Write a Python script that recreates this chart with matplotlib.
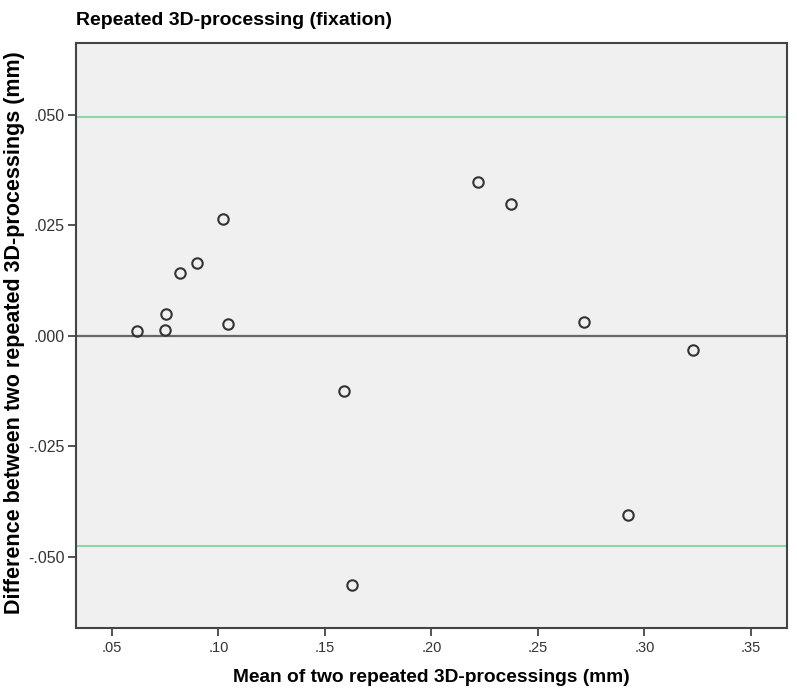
import matplotlib
matplotlib.use("Agg")
import matplotlib.pyplot as plt
from matplotlib.ticker import FuncFormatter

plt.rcParams['font.family'] = ['Liberation Sans', 'DejaVu Sans']

# Bland-Altman data
mean_mm = [0.0619, 0.0750, 0.0755, 0.0819, 0.0899, 0.1024, 0.1045,
           0.1589, 0.1628, 0.2218, 0.2373, 0.2719, 0.2921, 0.3229]
diff_mm = [0.0010, 0.0013, 0.0050, 0.0142, 0.0164, 0.0264, 0.0026,
           -0.0124, -0.0564, 0.0349, 0.0299, 0.0032, -0.0406, -0.0032]
upper_loa = 0.0495
lower_loa = -0.0477
x_ticks = [0.05, 0.10, 0.15, 0.20, 0.25, 0.30, 0.35]
y_ticks = [-0.050, -0.025, 0.0, 0.025, 0.050]


def spss_fmt(ndec):
    def f(v, pos):
        s = f"{v:.{ndec}f}"
        if s.startswith("-0"):
            s = "-" + s[2:]
        elif s.startswith("0"):
            s = s[1:]
        return s
    return FuncFormatter(f)


fig = plt.figure(figsize=(7.97, 6.93), dpi=100)
ax = fig.add_axes([0.0954, 0.0942, 0.8916, 0.8438])
ax.set_facecolor('#f0f0f0')

ax.axhline(upper_loa, color='#8fd6a0', lw=1.5, zorder=1)
ax.axhline(lower_loa, color='#8fd6a0', lw=1.5, zorder=1)
ax.axhline(0, color='#666666', lw=1.6, zorder=1)

ax.plot(mean_mm, diff_mm, linestyle='none', marker='o', markersize=7.5,
        markerfacecolor='none', markeredgecolor='#333333', markeredgewidth=1.5, zorder=3)

ax.set_xlim(0.0332, 0.3668)
ax.set_ylim(-0.0661, 0.0663)
ax.set_xticks(x_ticks)
ax.set_yticks(y_ticks)
ax.xaxis.set_major_formatter(spss_fmt(2))
ax.yaxis.set_major_formatter(spss_fmt(3))
ax.tick_params(axis='both', direction='out', length=6, width=1.3, color='#444444',
               labelcolor='#333333')
ax.tick_params(axis='x', labelsize=10.5)
ax.tick_params(axis='y', labelsize=11.5, pad=2)

for sp in ax.spines.values():
    sp.set_color('#444444')
    sp.set_linewidth(1.5)

ax.set_xlabel("Mean of two repeated 3D-processings (mm)", fontsize=13.8,
              fontweight='bold', labelpad=10)
fig.text(15 / 797, 1 - 333 / 693, "Difference between two repeated 3D-processings (mm)",
         fontsize=15.5, fontweight='bold', rotation=90, ha='center', va='center')
fig.text(0.0954, 0.971, "Repeated 3D-processing (fixation)", fontsize=14,
         fontweight='bold', ha='left', va='center')

fig.savefig("out.png", dpi=100)
